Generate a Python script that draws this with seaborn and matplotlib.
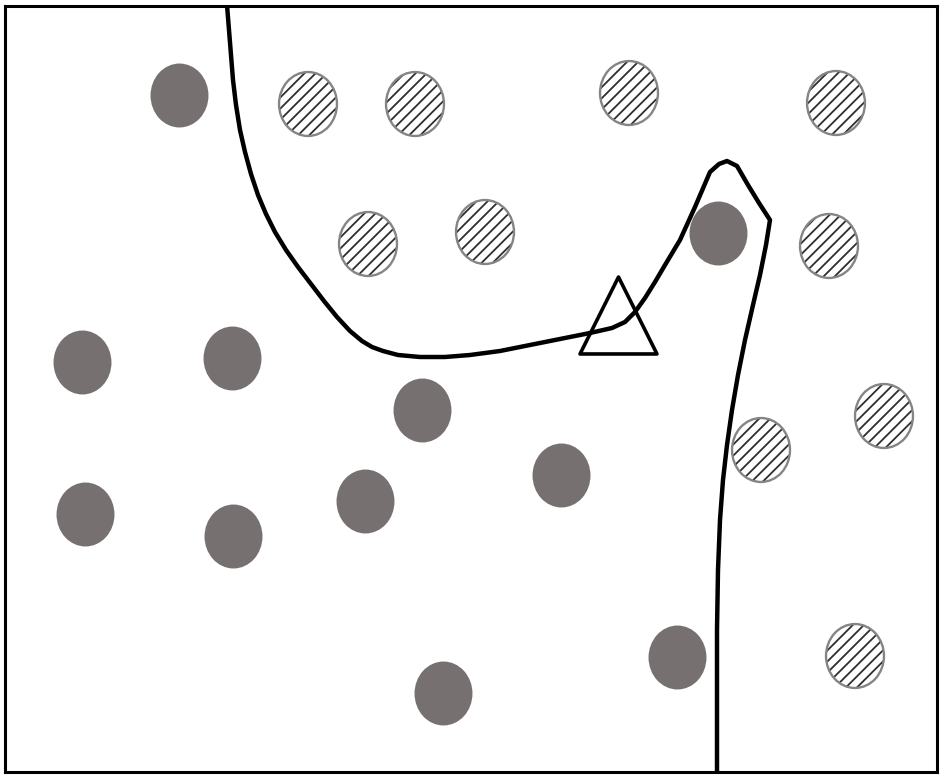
import numpy as np
import matplotlib.pyplot as plt
import seaborn as sns
from matplotlib.path import Path
from matplotlib.transforms import Affine2D
from matplotlib.markers import MarkerStyle

# class A points (solid grey)
solid_x = [179, 718, 82, 232, 422, 561, 85, 233, 365, 443, 677]
solid_y = [95, 233, 362, 358, 410, 475, 514, 536, 501, 693, 657]

# class B points (hatched)
hatch_x = [308, 415, 629, 836, 368, 485, 829, 884, 761, 855]
hatch_y = [104, 104, 93, 103, 244, 232, 246, 416, 450, 656]

# query point
query_x = [618]
query_y = [315]

# decision boundary
bound_x = [227, 229, 231, 233, 236, 240, 245, 251, 258, 266, 275, 286, 298,
           311, 324, 337, 350, 362, 372, 383, 398, 420, 445, 470, 500, 530,
           560, 590, 612, 625, 635, 645, 655, 665, 680, 695, 710, 719, 727,
           737, 748, 759, 770, 766, 760, 753, 745, 738, 732, 727, 723, 720,
           718, 717, 717, 717]
bound_y = [5, 30, 55, 80, 105, 130, 152, 174, 195, 214, 232, 250, 267,
           284, 301, 317, 331, 341, 347, 351, 355, 357, 357, 355, 351, 345,
           339, 333, 328, 322, 312, 298, 282, 265, 240, 207, 172, 164, 161,
           166, 185, 203, 220, 245, 275, 305, 340, 375, 410, 445, 480, 520,
           570, 630, 700, 773]

sns.set_style("white")

fig = plt.figure(figsize=(9.45, 7.8), dpi=100)
ax = fig.add_axes([5 / 945, 8 / 780, 932 / 945, 766 / 780])

ellipse = MarkerStyle(Affine2D().scale(58 / 64, 1).transform_path(Path.unit_circle()))
size = 2120

sns.scatterplot(x=solid_x, y=solid_y, marker=ellipse, s=size, color="#767170",
                linewidth=0, ax=ax, zorder=2)

plt.rcParams["hatch.linewidth"] = 1.3
sns.scatterplot(x=hatch_x, y=hatch_y, marker=ellipse, s=size, facecolor="white",
                edgecolor="#2e2e2e", linewidth=0, hatch="///", ax=ax, zorder=2)
sns.scatterplot(x=hatch_x, y=hatch_y, marker=ellipse, s=size, facecolor="none",
                edgecolor="#858585", linewidth=1.7, ax=ax, zorder=3)

sns.scatterplot(x=query_x, y=query_y, marker="^", s=3070, facecolor="white",
                edgecolor="black", linewidth=2.6, ax=ax, zorder=4)

sns.lineplot(x=bound_x, y=bound_y, sort=False, estimator=None, color="black",
             linewidth=3.2, solid_joinstyle="round", ax=ax, zorder=5)

ax.set_xlim(5, 937)
ax.set_ylim(772, 6)
ax.set_xticks([])
ax.set_yticks([])
ax.set_xlabel("")
ax.set_ylabel("")
for sp in ax.spines.values():
    sp.set_visible(True)
    sp.set_color("black")
    sp.set_linewidth(2.2)

fig.savefig("out.png", dpi=100)
